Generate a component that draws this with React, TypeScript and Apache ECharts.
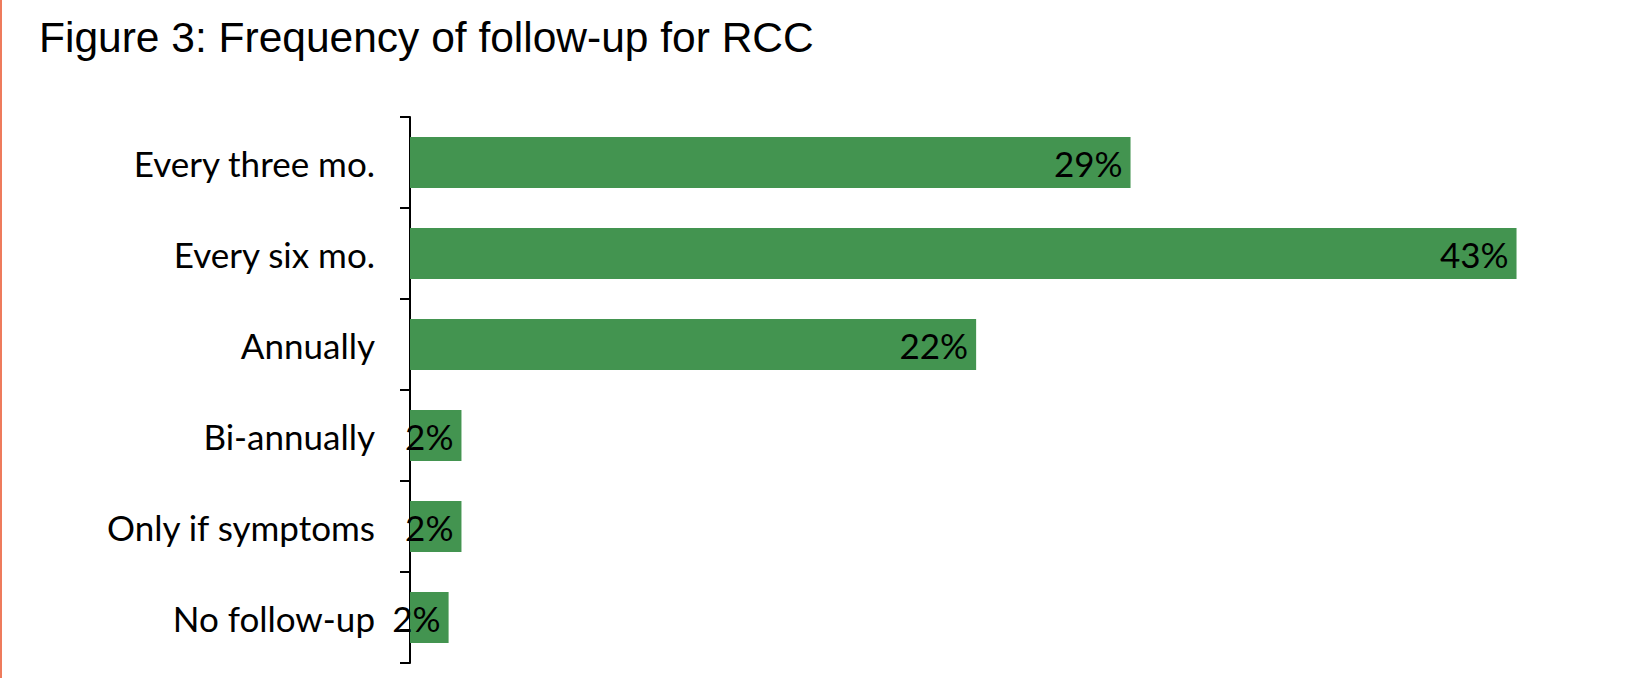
import React, { useEffect, useRef } from "react";
import * as echarts from "echarts";

const titleText = "Figure 3: Frequency of follow-up for RCC";
const categories = [
  "Every three mo.",
  "Every six mo.",
  "Annually",
  "Bi-annually",
  "Only if symptoms",
  "No follow-up",
];
const values = [28, 43, 22, 2, 2, 1.5];
const labelTexts = ["29%", "43%", "22%", "2%", "2%", "2%"];

export default function App() {
  const ref = useRef<HTMLDivElement>(null);
  useEffect(() => {
    if (!ref.current) return;
    const chart = echarts.init(ref.current, undefined, { renderer: "svg" });
    const font = "Lato, 'Noto Sans', sans-serif";
    chart.setOption({
      animation: false,
      backgroundColor: "#ffffff",
      title: {
        text: titleText,
        left: 34,
        top: 11,
        textStyle: {
          fontFamily: "'Liberation Sans', Arial, sans-serif",
          fontSize: 42.5,
          fontWeight: "normal",
          color: "#000000",
        },
      },
      graphic: [
        {
          type: "rect",
          left: 0,
          top: 0,
          shape: { x: 0, y: 0, width: 2, height: 678 },
          style: { fill: "#EE7B5C" },
        },
      ],
      grid: { left: 410, right: 82, top: 117, bottom: 15, containLabel: false },
      xAxis: {
        type: "value",
        min: 0,
        max: 45,
        show: false,
        splitLine: { show: false },
      },
      yAxis: {
        type: "category",
        inverse: true,
        data: categories,
        axisLine: { show: true, lineStyle: { color: "#000000", width: 2 } },
        axisTick: { show: true, length: 10, lineStyle: { color: "#000000", width: 2 } },
        axisLabel: {
          margin: 35,
          color: "#000000",
          fontFamily: font,
          fontSize: 35,
        },
        splitLine: { show: false },
      },
      series: [
        {
          type: "bar",
          data: values,
          barCategoryGap: "44%",
          itemStyle: { color: "#439450" },
          z: 1,
          label: {
            show: true,
            position: "insideRight",
            distance: 8,
            color: "#000000",
            fontFamily: font,
            fontSize: 35,
            formatter: (p: any) => labelTexts[p.dataIndex],
          },
        },
      ],
    });
    return () => chart.dispose();
  }, []);
  return (
    <div
      ref={ref}
      style={{ position: "fixed", left: 0, top: 0, width: 1650, height: 678 }}
    />
  );
}
